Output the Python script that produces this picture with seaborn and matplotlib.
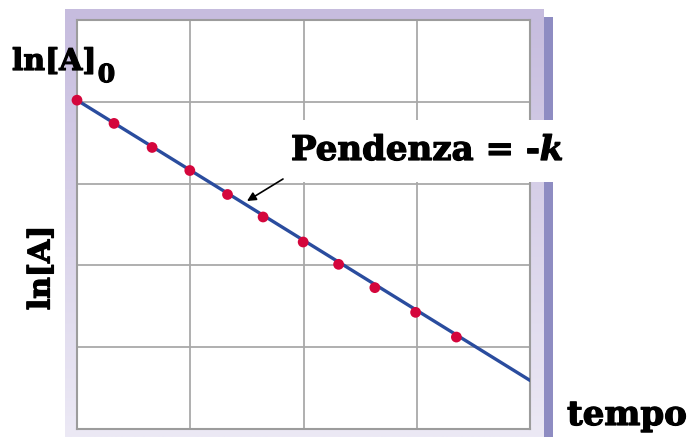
import numpy as np
import matplotlib
matplotlib.use("Agg")
import matplotlib.pyplot as plt
from matplotlib.patches import Rectangle
from matplotlib.colors import LinearSegmentedColormap
import matplotlib.patheffects as pe
import seaborn as sns
import pandas as pd

# Measured ln[A] values over time (first-order decay)
tempo = [0.0, 0.327, 0.663, 0.996, 1.329, 1.643, 1.997, 2.31, 2.63, 2.99, 3.35]
ln_A = [4.02, 3.736, 3.442, 3.160, 2.867, 2.592, 2.286, 2.013, 1.728, 1.426, 1.124]

# Straight-line fit extended across the whole time window
fit_t = [0.0, 4.0]
fit_lnA = [4.02, 0.594]

W, H, DPI = 693, 437, 100
sns.set_theme(style="white")
plt.rcParams["font.family"] = ["DejaVu Serif", "DejaVu Sans"]

fig = plt.figure(figsize=(W / DPI, H / DPI), dpi=DPI)
fig.patch.set_facecolor("white")

# Background layer: lavender frame around the plot
bg = fig.add_axes([0, 0, 1, 1], zorder=0)
bg.set_xlim(0, W)
bg.set_ylim(H, 0)
bg.axis("off")
frame_cmap = LinearSegmentedColormap.from_list("frame", ["#c6bcde", "#ece9f5"])
bg.imshow(np.linspace(0, 1, 200).reshape(-1, 1), cmap=frame_cmap,
          extent=(65, 544, H, 9), aspect="auto", origin="upper", zorder=0)
bg.add_patch(Rectangle((544, 17), 9, H - 17, color="#8e8cc2", lw=0, zorder=1))
bg.set_xlim(0, W)
bg.set_ylim(H, 0)

# Main plot area
ax = fig.add_axes([77 / W, (H - 429) / H, (530 - 77) / W, (429 - 20) / H], zorder=1)
ax.set_facecolor("white")
df_pts = pd.DataFrame({"tempo": tempo, "lnA": ln_A})
df_fit = pd.DataFrame({"tempo": fit_t, "lnA": fit_lnA})
sns.lineplot(data=df_fit, x="tempo", y="lnA", ax=ax, color="#2a4c9e", lw=2.4, zorder=3)
sns.scatterplot(data=df_pts, x="tempo", y="lnA", ax=ax, color="#d4063c", s=60,
                edgecolor="none", zorder=4, clip_on=False)
ax.set_xlim(0, 4)
ax.set_ylim(0, 5)
ax.set_xticks(range(0, 5))
ax.set_yticks(range(0, 6))
ax.set_xticklabels([])
ax.set_yticklabels([])
ax.tick_params(length=0)
ax.set_xlabel("")
ax.set_ylabel("")
ax.grid(True, color="#a9a9a9", lw=1.3)
ax.set_axisbelow(True)
for sp in ax.spines.values():
    sp.set_color("#9c9c9c")
    sp.set_linewidth(1.5)

# Overlay layer: labels and slope annotation
top = fig.add_axes([0, 0, 1, 1], zorder=2)
top.set_xlim(0, W)
top.set_ylim(H, 0)
top.axis("off")
top.patch.set_alpha(0)

heavy = [pe.withStroke(linewidth=0.9, foreground="black")]
bold = dict(family="DejaVu Serif", weight="bold", color="black", path_effects=heavy)

t0 = top.text(12, 70, "ln[A]", fontsize=21.5, ha="left", va="baseline", **bold)
top.annotate("0", xy=(1, 0), xycoords=t0, xytext=(1, -8), textcoords="offset points",
             fontsize=18, ha="left", va="bottom", **bold)

top.text(41, 268, "ln[A]", fontsize=21.5, rotation=90, ha="center", va="center", **bold)
top.text(567, 425, "tempo", fontsize=24.5, ha="left", va="baseline", **bold)

top.add_patch(Rectangle((282, 120), 300, 62, color="white", lw=0, zorder=1))
tp = top.text(291, 160, "Pendenza = -", fontsize=24.5, ha="left", va="baseline", zorder=3, **bold)
top.annotate("k", xy=(1, 0), xycoords=tp, fontsize=24.5, ha="left", va="bottom",
             style="italic", zorder=3, **bold)

top.annotate("", xy=(247, 201), xytext=(283, 179),
             arrowprops=dict(arrowstyle="-|>", color="black", lw=1.2,
                             mutation_scale=13, shrinkA=0, shrinkB=0), zorder=3)

fig.savefig("out.png", dpi=DPI)
